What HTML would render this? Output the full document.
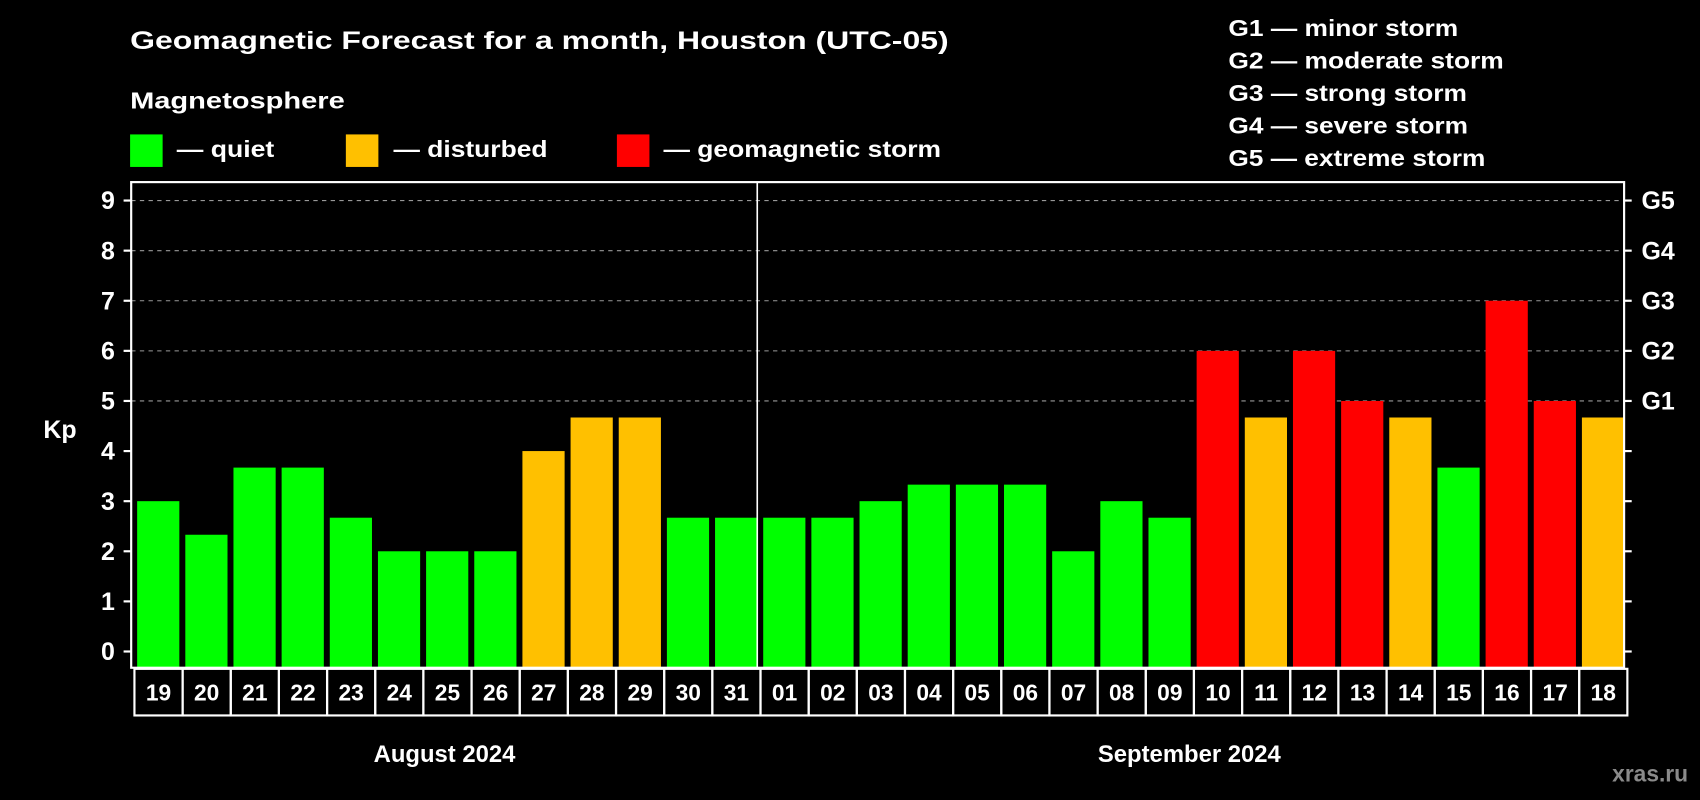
<!DOCTYPE html>
<html><head><meta charset="utf-8"><style>
html,body{margin:0;padding:0;background:#000;}
svg{display:block;}
text{font-family:"Liberation Sans",Arial,sans-serif;font-weight:bold;fill:#fff;}
</style></head><body>
<svg id="chart" width="1700" height="800" viewBox="0 0 1568 738" preserveAspectRatio="none" xmlns="http://www.w3.org/2000/svg">
<rect x="0" y="0" width="1568" height="738" fill="#000"/>
<text x="120" y="45" font-size="23" textLength="755" lengthAdjust="spacingAndGlyphs">Geomagnetic Forecast for a month, Houston (UTC-05)</text>
<text x="120" y="100" font-size="21" textLength="198" lengthAdjust="spacingAndGlyphs">Magnetosphere</text>
<g>
<rect x="120" y="124" width="30" height="30" fill="#00ff00"/>
<text x="163" y="145" font-size="21" textLength="90" lengthAdjust="spacingAndGlyphs">— quiet</text>
</g>
<g>
<rect x="319" y="124" width="30" height="30" fill="#ffc000"/>
<text x="363" y="145" font-size="21" textLength="142" lengthAdjust="spacingAndGlyphs">— disturbed</text>
</g>
<g>
<rect x="569" y="124" width="30" height="30" fill="#ff0000"/>
<text x="612" y="145" font-size="21" textLength="256" lengthAdjust="spacingAndGlyphs">— geomagnetic storm</text>
</g>
<g>
<text x="1133" y="33" font-size="21" textLength="212" lengthAdjust="spacingAndGlyphs">G1 — minor storm</text>
<text x="1133" y="63" font-size="21" textLength="254" lengthAdjust="spacingAndGlyphs">G2 — moderate storm</text>
<text x="1133" y="93" font-size="21" textLength="220" lengthAdjust="spacingAndGlyphs">G3 — strong storm</text>
<text x="1133" y="123" font-size="21" textLength="221" lengthAdjust="spacingAndGlyphs">G4 — severe storm</text>
<text x="1133" y="153" font-size="21" textLength="237" lengthAdjust="spacingAndGlyphs">G5 — extreme storm</text>
</g>
<text x="40" y="404" font-size="23">Kp</text>
<g id="grid"></g><g id="bars"></g><g id="axes"></g>
<text x="410" y="703" font-size="22" text-anchor="middle">August 2024</text>
<text x="1097" y="703" font-size="22" text-anchor="middle">September 2024</text>
<text x="1557" y="721" font-size="21" text-anchor="end" style="fill:#8a8a8a">xras.ru</text>
</svg>
<script>
const days = ["19","20","21","22","23","24","25","26","27","28","29","30","31","01","02","03","04","05","06","07","08","09","10","11","12","13","14","15","16","17","18"];
const kpValues = [3,2.33,3.67,3.67,2.67,2,2,2,4,4.67,4.67,2.67,2.67,2.67,2.67,3,3.33,3.33,3.33,2,3,2.67,6,4.67,6,5,4.67,3.67,7,5,4.67];
const yTicks = [0,1,2,3,4,5,6,7,8,9];
const gLabels = ["G1","G2","G3","G4","G5"];
const gLevels = [5,6,7,8,9];
const monthSplit = 13;

const NS="http://www.w3.org/2000/svg";
const L=121,R=1498,T=168,B=616,Y0=601,Y9=185;
const cw=(R-L)/days.length;
const y=v=>Y0-(Y0-Y9)*v/9;
const x=i=>L+i*cw;
function mk(tag,attrs,parent,txt){const e=document.createElementNS(NS,tag);for(const k in attrs)e.setAttribute(k,attrs[k]);if(txt!==undefined)e.textContent=txt;parent.appendChild(e);return e;}
const grid=document.getElementById('grid'),bars=document.getElementById('bars'),axes=document.getElementById('axes');
gLevels.forEach(v=>{const l=mk('line',{x1:L,x2:R,y1:y(v),y2:y(v),stroke:'#999','stroke-width':1,'stroke-dasharray':'4,4'},grid);

});
const col=v=>v>=5?'#ff0000':(v>=4?'#ffc000':'#00ff00');
kpValues.forEach((v,i)=>{const r=mk('rect',{x:x(i)+5.5,width:cw-5.5,y:y(v),height:B-y(v),fill:col(v)},bars);

});
const fr=mk('rect',{x:L,y:T,width:R-L,height:B-T,fill:'none',stroke:'#fff','stroke-width':2},axes);


const dv=mk('line',{x1:x(monthSplit),x2:x(monthSplit),y1:T,y2:B,stroke:'#fff','stroke-width':1.5},axes);


yTicks.forEach(v=>{
 const t1=mk('line',{x1:L-7,x2:L,y1:y(v),y2:y(v),stroke:'#fff','stroke-width':2},axes);
 
 
 const t2=mk('line',{x1:R,x2:R+7,y1:y(v),y2:y(v),stroke:'#fff','stroke-width':2},axes);
 
 
 const tl=mk('text',{x:106,y:y(v)+8,'font-size':23,'text-anchor':'end'},axes,String(v));
 
 
});
gLevels.forEach((v,i)=>{const t=mk('text',{x:1514,y:y(v)+8,'font-size':23},axes,gLabels[i]);

});
days.forEach((d,i)=>{
 const c=mk('rect',{x:x(i)+3,y:B+1,width:cw,height:43,fill:'none',stroke:'#fff','stroke-width':2},axes);
 
 
 const t=mk('text',{x:x(i)+3+cw/2,y:B+30,'font-size':21,'text-anchor':'middle'},axes,d);
 
 
});
</script>
</body></html>
